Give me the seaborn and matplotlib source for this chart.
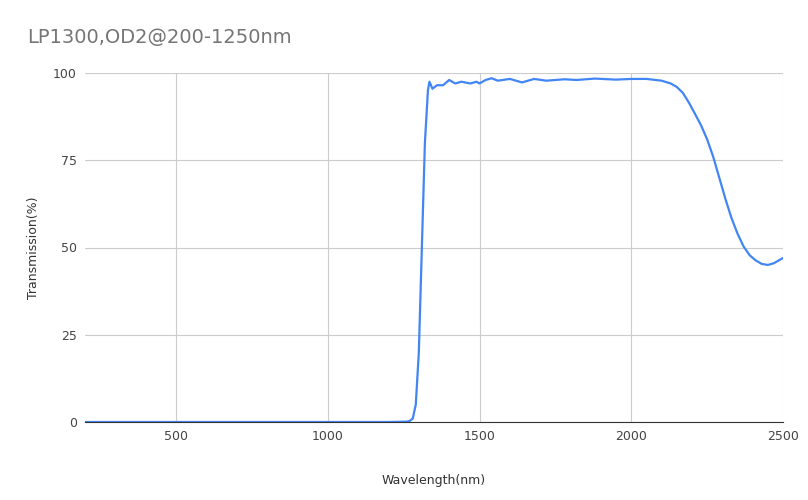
import matplotlib
matplotlib.use("Agg")
import matplotlib.pyplot as plt
import seaborn as sns
import pandas as pd

wavelength = [200, 400, 600, 800, 1000, 1200, 1260, 1270, 1280, 1290, 1300, 1310, 1320, 1330, 1335, 1345,
              1360, 1380, 1400, 1420, 1440, 1470, 1490, 1500, 1520, 1540, 1560, 1600, 1640, 1680,
              1720, 1780, 1820, 1880, 1950, 2000, 2050, 2100, 2130, 2150, 2170, 2190, 2210, 2230,
              2250, 2270, 2290, 2310, 2330, 2350, 2370, 2390, 2410, 2430, 2450, 2470, 2490, 2500]
transmission = [0, 0, 0, 0, 0, 0, 0.1, 0.3, 1, 5, 20, 50, 80, 95, 97.5, 95.5,
                96.5, 96.5, 98, 97, 97.5, 97, 97.5, 97, 98, 98.5, 97.8, 98.3, 97.3, 98.3,
                97.8, 98.2, 98, 98.4, 98.1, 98.3, 98.3, 97.8, 97.0, 96.0, 94.3, 91.5, 88.3, 85.0,
                81.0, 76.0, 70.0, 64.0, 58.5, 54.0, 50.3, 47.8, 46.3, 45.3, 45.0, 45.5, 46.5, 47]

df = pd.DataFrame({"Wavelength(nm)": wavelength, "Transmission(%)": transmission})

sns.set_style("white")
fig = plt.figure(figsize=(8.08, 5), dpi=100)
ax = fig.add_axes([85/808, 78/500, 698/808, 349/500])
sns.lineplot(data=df, x="Wavelength(nm)", y="Transmission(%)", ax=ax, color="#4285f4", linewidth=1.6)
ax.set_xlim(200, 2500)
ax.set_ylim(0, 100)
ax.set_xticks([500, 1000, 1500, 2000, 2500])
ax.set_yticks([0, 25, 50, 75, 100])
ax.grid(True, color="#cccccc", linewidth=0.8)
for s in ["top", "right", "left"]:
    ax.spines[s].set_visible(False)
ax.spines["bottom"].set_color("#333333")
ax.tick_params(length=0, labelsize=9, colors="#444444", pad=6)
ax.set_xlabel("Wavelength(nm)", fontsize=9, color="#333333", labelpad=22)
ax.set_ylabel("Transmission(%)", fontsize=9, color="#333333", labelpad=9)
fig.text(27/808, 1 - 37/500, "LP1300,OD2@200-1250nm", fontsize=14, color="#757575", va="center")
fig.savefig("out.png", dpi=100)
